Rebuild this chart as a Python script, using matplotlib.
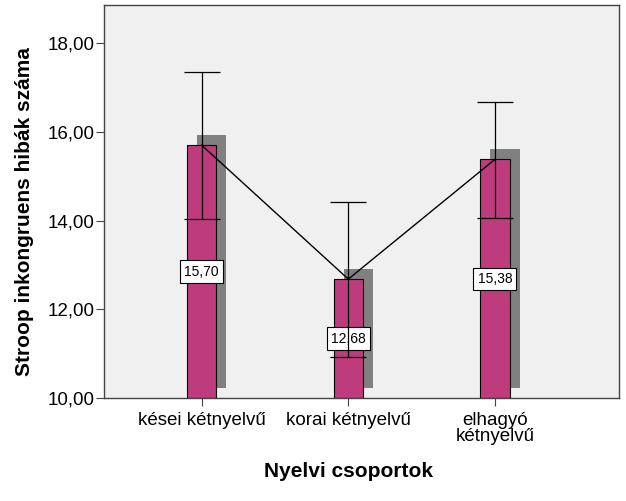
import matplotlib
matplotlib.use("Agg")
import matplotlib.pyplot as plt
from matplotlib.ticker import FuncFormatter
from matplotlib.transforms import ScaledTranslation

# adatok
groups = ["kései kétnyelvű", "korai kétnyelvű", "elhagyó\nkétnyelvű"]
means = [15.70, 12.68, 15.38]
err_up = [1.64, 1.73, 1.30]
err_down = [1.66, 1.76, 1.32]
y_ticks = [10, 12, 14, 16, 18]

plt.rcParams["font.family"] = ["Liberation Sans", "DejaVu Sans"]

fig = plt.figure(figsize=(6.26, 5.01), dpi=100)
ax = fig.add_axes([104 / 626, 103 / 501, 515 / 626, 393 / 501])
ax.set_facecolor("#f0f0f0")

x = list(range(len(groups)))
base = 10
heights = [m - base for m in means]

# árnyék a bal felső eltolással
shadow_tr = ax.transData + ScaledTranslation(10 / 100, 10 / 100, fig.dpi_scale_trans)
ax.bar(x, heights, width=0.2, bottom=base, color="#808080", transform=shadow_tr, zorder=1)
ax.bar(x, heights, width=0.2, bottom=base, color="#be3c7e", edgecolor="black",
       linewidth=0.8, zorder=2)

# átlagokat összekötő vonal
ax.plot(x, means, color="black", linewidth=1, zorder=3)

# címkék a oszlopok közepén
for xi, m in zip(x, means):
    ax.text(xi, (base + m) / 2, f"{m:.2f}".replace(".", ","), ha="center", va="center",
            fontsize=10, zorder=4,
            bbox=dict(boxstyle="square,pad=0.3", fc="white", ec="black", lw=0.8))

ax.errorbar(x, means, yerr=[err_down, err_up], fmt="none", ecolor="black",
            elinewidth=0.9, capsize=13, capthick=0.9, zorder=5)

ax.set_xlim(-0.666, 2.846)
ax.set_ylim(10, 18.86)
ax.set_xticks(x)
ax.set_xticklabels(groups, fontsize=13.5, linespacing=0.95)
ax.set_yticks(y_ticks)
ax.yaxis.set_major_formatter(FuncFormatter(lambda v, p: f"{v:.2f}".replace(".", ",")))
ax.tick_params(axis="y", labelsize=13.5, length=6, pad=1, color="#444444")
ax.tick_params(axis="x", length=6, pad=4, color="#444444")

for s in ax.spines.values():
    s.set_color("#444444")
    s.set_linewidth(1)

ax.set_ylabel("Stroop inkongruens hibák száma", fontsize=15, fontweight="bold")
ax.set_xlabel("Nyelvi csoportok", fontsize=15, fontweight="bold")
ax.yaxis.set_label_coords(-0.136, 0.475)
ax.xaxis.set_label_coords(0.474, -0.163)

fig.savefig("out.png", dpi=100)
